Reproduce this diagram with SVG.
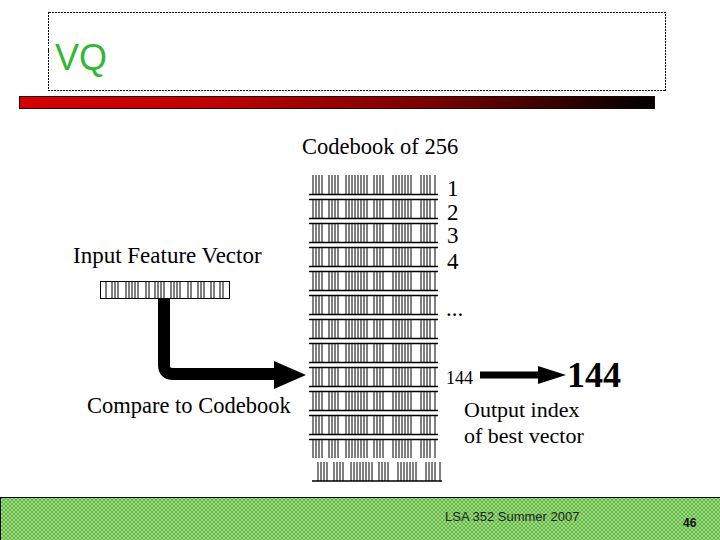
<svg xmlns="http://www.w3.org/2000/svg" xmlns:xlink="http://www.w3.org/1999/xlink" width="720" height="540" viewBox="0 0 720 540">
<style>
.serif{font-family:"Liberation Serif","Times New Roman",serif;fill:#000}
.lbl{font-size:23px}
.bars{stroke:#000;stroke-width:1;fill:none}
.hl{stroke:#000;stroke-width:1.5;fill:none}
</style>
<defs>
<linearGradient id="redbar" x1="0" y1="0" x2="1" y2="0">
<stop offset="0" stop-color="#d40000"/>
<stop offset="0.3" stop-color="#c00000"/>
<stop offset="0.65" stop-color="#780000"/>
<stop offset="1" stop-color="#000"/>
</linearGradient>
<pattern id="hatch" width="4" height="4" patternUnits="userSpaceOnUse">
<rect width="4" height="4" fill="#9ed882"/>
<path d="M0,4 L4,0 M0,0 L4,4" stroke="#5fb640" stroke-width="0.9"/>
</pattern>
<path id="bars" class="bars" d="M313,0v19M316,0v19M319,0v19M322,0v19M329,0v19M332,0v19M335,0v19M338,0v19M346,0v19M349,0v19M352,0v19M355,0v19M358,0v19M361,0v19M364,0v19M367,0v19M374,0v19M377,0v19M380,0v19M383,0v19M393,0v19M396,0v19M399,0v19M402,0v19M405,0v19M408,0v19M411,0v19M421,0v19M424,0v19M427,0v19M430,0v19M435,0v19"/>
</defs>

<g id="title">
<rect x="48.5" y="12.5" width="617" height="78" fill="none" stroke="#000" stroke-width="1" stroke-dasharray="2,1" shape-rendering="crispEdges"/>
<text x="55" y="70" font-family="Liberation Sans, Arial, sans-serif" font-size="36" fill="#33b833">VQ</text>
</g>
<g id="titlebar">
<rect x="19.5" y="96.5" width="635" height="12" fill="url(#redbar)" stroke="#200" stroke-width="1"/>
</g>

<g id="codebook">
<text class="serif" x="302" y="154" font-size="22.5">Codebook of 256</text>
<use xlink:href="#bars" y="175"/>
<use xlink:href="#bars" y="199"/>
<use xlink:href="#bars" y="223"/>
<use xlink:href="#bars" y="247"/>
<use xlink:href="#bars" y="271"/>
<use xlink:href="#bars" y="295"/>
<use xlink:href="#bars" y="319"/>
<use xlink:href="#bars" y="343"/>
<use xlink:href="#bars" y="367"/>
<use xlink:href="#bars" y="391"/>
<use xlink:href="#bars" y="415"/>
<use xlink:href="#bars" y="439"/>
<use xlink:href="#bars" x="5" y="462"/>
<path class="hl" d="M309,194.5H438M309,199.5H438M309,218.5H438M309,223.5H438M309,242.5H438M309,247.5H438M309,266.5H438M309,271.5H438M309,290.5H438M309,295.5H438M309,314.5H438M309,319.5H438M309,338.5H438M309,343.5H438M309,362.5H438M309,367.5H438M309,386.5H438M309,391.5H438M309,410.5H438M309,415.5H438M309,434.5H438M309,439.5H438M312,481H442"/>
<text class="serif lbl" x="447" y="196">1</text>
<text class="serif lbl" x="447" y="220">2</text>
<text class="serif lbl" x="447" y="243">3</text>
<text class="serif lbl" x="447" y="269">4</text>
<text class="serif lbl" x="446" y="316">...</text>
<text class="serif" x="446" y="384" font-size="18">144</text>
</g>

<g id="input">
<text class="serif" x="73" y="263" font-size="23">Input Feature Vector</text>
<rect x="100.5" y="281.5" width="129" height="17" fill="#fff" stroke="#000" stroke-width="1"/>
<path class="bars" d="M106,282v17M112,282v17M115,282v17M118,282v17M126,282v17M129,282v17M132,282v17M135,282v17M138,282v17M146,282v17M149,282v17M155,282v17M158,282v17M161,282v17M164,282v17M171,282v17M174,282v17M177,282v17M180,282v17M188,282v17M191,282v17M198,282v17M201,282v17M204,282v17M211,282v17M214,282v17M220,282v17M223,282v17"/>
</g>

<g id="compare">
<text class="serif" x="87" y="413" font-size="22.5">Compare to Codebook</text>
</g>

<g id="output">
<text class="serif" x="567" y="387" font-size="36" font-weight="bold">144</text>
<text class="serif" x="464" y="417" font-size="22">Output index</text>
<text class="serif" x="464" y="443" font-size="22">of best vector</text>
</g>

<g id="connectors">
<path d="M164,299V365Q164,374 173,374H278" fill="none" stroke="#000" stroke-width="12"/>
<polygon points="274,361 306,375 274,389" fill="#000"/>
<path d="M480,375H541" stroke="#000" stroke-width="7"/>
<polygon points="538,366 566,375 538,384" fill="#000"/>
</g>

<g id="footer">
<rect x="0.5" y="497.5" width="720" height="43" fill="url(#hatch)" stroke="#000" stroke-width="1"/>
<text x="445" y="521" font-family="Liberation Sans, Arial, sans-serif" font-size="13" fill="#222">LSA 352 Summer 2007</text>
<text x="683" y="527" font-family="Liberation Sans, Arial, sans-serif" font-size="12" font-weight="bold" fill="#111">46</text>
</g>
</svg>
